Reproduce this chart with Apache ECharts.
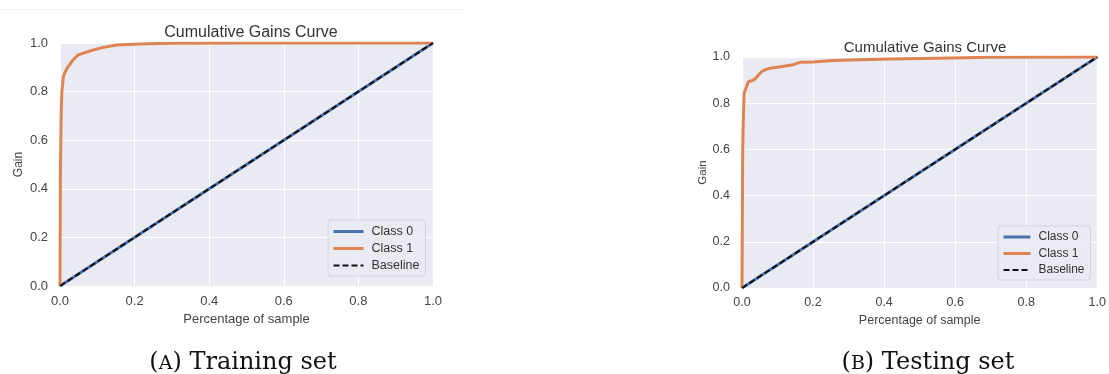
<!DOCTYPE html>
<html lang="en">
<head>
	<meta charset="UTF-8">
	<title>Cumulative Gains Curve</title>
	<style type="text/css">
		html, body { margin: 0; padding: 0; background: #fff; }
		#a { width: 1109px; height: 374px; }
	</style>
</head>
<body>
	<div id="a"></div>
	<script type="text/javascript" src="https://cdn.jsdelivr.net/npm/echarts@6/dist/echarts.min.js"></script>
	<script type="text/javascript">
		// tick labels of both axes
		var ticks = [0, 0.2, 0.4, 0.6, 0.8, 1.0];

		// diagonal (class 0 and the baseline)
		var basePct = [0, 1];
		var baseGain = [0, 1];

		// training set, class 1
		var trainPct = [0, 0.001, 0.003, 0.005, 0.009, 0.015, 0.022, 0.035, 0.049, 0.07, 0.089, 0.12, 0.152, 0.214, 0.3, 0.5, 1.0];
		var trainGain = [0, 0.45, 0.70, 0.80, 0.861, 0.885, 0.903, 0.93, 0.951, 0.962, 0.971, 0.983, 0.992, 0.996, 0.999, 1.0, 1.0];

		// testing set, class 1
		var testPct = [0, 0.002, 0.004, 0.006, 0.01, 0.018, 0.028, 0.037, 0.045, 0.055, 0.065, 0.079, 0.1, 0.121, 0.14, 0.163, 0.2, 0.247, 0.3, 0.416, 0.55, 0.7, 1.0];
		var testGain = [0, 0.6, 0.75, 0.843, 0.86, 0.893, 0.898, 0.905, 0.92, 0.936, 0.945, 0.951, 0.956, 0.961, 0.965, 0.977, 0.978, 0.984, 0.987, 0.991, 0.995, 0.999, 1.0];

		var seriesNames = ['Class 0', 'Class 1', 'Baseline'];
		var captions = ['A', 'B'];
		var captionText = ['Training set', 'Testing set'];

		function zip(xs, ys) {
			return xs.map(function (x, i) { return [x, ys[i]]; });
		}

		var font = 'Liberation Sans';
		var textColor = '#444';

		function xAxisFor(idx, size, margin, gap) {
			return {
				type: 'value', gridIndex: idx, min: 0, max: 1, interval: 0.2,
				name: 'Percentage of sample', nameLocation: 'middle', nameGap: gap,
				nameTextStyle: { fontFamily: font, fontSize: size, color: textColor },
				axisLine: { show: false }, axisTick: { show: false },
				axisLabel: { fontFamily: font, fontSize: size, color: textColor, margin: margin,
					formatter: function (v) { return v.toFixed(1); } },
				splitLine: { lineStyle: { color: '#fff', width: 1 } }
			};
		}
		function yAxisFor(idx, size, gap) {
			return {
				type: 'value', gridIndex: idx, min: 0, max: 1, interval: 0.2,
				name: 'Gain', nameLocation: 'middle', nameGap: gap,
				nameTextStyle: { fontFamily: font, fontSize: size - 1, color: textColor },
				axisLine: { show: false }, axisTick: { show: false },
				axisLabel: { fontFamily: font, fontSize: size, color: textColor, margin: 12,
					formatter: function (v) { return v.toFixed(1); } },
				splitLine: { lineStyle: { color: '#fff', width: 1 } }
			};
		}
		function seriesFor(idx, pct, gain) {
			return [
				{ name: 'Class 0', type: 'line', xAxisIndex: idx, yAxisIndex: idx, data: zip(basePct, baseGain),
					showSymbol: false, symbol: 'none', lineStyle: { color: '#4c72b0', width: 3 }, itemStyle: { color: '#4c72b0' } },
				{ name: 'Class 1', type: 'line', xAxisIndex: idx, yAxisIndex: idx, data: zip(pct, gain),
					showSymbol: false, symbol: 'none', lineStyle: { color: '#dd8452', width: 3 }, itemStyle: { color: '#dd8452' } },
				{ name: 'Baseline', type: 'line', xAxisIndex: idx, yAxisIndex: idx, data: zip(basePct, baseGain),
					showSymbol: false, symbol: 'none', lineStyle: { color: '#111', width: 2, type: [6, 3] }, itemStyle: { color: '#111' } }
			];
		}
		function legendFor(left, top, iw, ih, gap, size) {
			return {
				data: [
					{ name: seriesNames[0], lineStyle: { width: 3 } },
					{ name: seriesNames[1], lineStyle: { width: 3 } },
					{ name: seriesNames[2], lineStyle: { width: 2 } }
				],
				orient: 'vertical', left: left, top: top,
				itemWidth: iw, itemHeight: ih, itemGap: gap, padding: [5, 6, 4, 4],
				itemStyle: { opacity: 0 },
				backgroundColor: 'rgba(234,234,242,0.85)', borderColor: '#d4d4dc', borderWidth: 1, borderRadius: 3,
				textStyle: { fontFamily: font, fontSize: size, color: '#333', padding: [0, 0, 0, 3] },
				selectedMode: false
			};
		}
		function caption(letter, text, cx) {
			var base = { fontFamily: 'DejaVu Serif', fontWeight: 'normal', color: '#111', lineHeight: 26, verticalAlign: 'bottom' };
			return {
				text: '{p|(}{sc|' + letter + '}{p|) ' + text + '}',
				left: cx, top: 344, textAlign: 'center',
				textStyle: { fontWeight: 'normal', rich: {
					p: Object.assign({ fontSize: 24 }, base),
					sc: Object.assign({ fontSize: 19, padding: [0, 0, 1, 0] }, base)
				} }
			};
		}

		var myChart = echarts.init(document.getElementById('a'));
		var option = {
			animation: false,
			title: [
				{ text: 'Cumulative Gains Curve', left: 246, top: 20, textAlign: 'center',
					textStyle: { fontFamily: font, fontSize: 16, fontWeight: 'normal', color: '#333' } },
				{ text: 'Cumulative Gains Curve', left: 920, top: 35, textAlign: 'center',
					textStyle: { fontFamily: font, fontSize: 15, fontWeight: 'normal', color: '#333' } },
				caption(captions[0], captionText[0], 238),
				caption(captions[1], captionText[1], 923)
			],
			grid: [
				{ left: 60, top: 43, width: 373, height: 243, show: true, backgroundColor: '#eaeaf2', borderWidth: 0 },
				{ left: 742, top: 57, width: 356, height: 231, show: true, backgroundColor: '#eaeaf2', borderWidth: 0 }
			],
			xAxis: [xAxisFor(0, 13, 9, 23), xAxisFor(1, 12.5, 8, 24)],
			yAxis: [yAxisFor(0, 13, 35), yAxisFor(1, 12.5, 33)],
			legend: [
				legendFor(328, 220, 30, 14, 4, 12.5),
				legendFor(998, 226, 27, 13, 4.5, 12)
			],
			graphic: [
				{ type: 'line', shape: { x1: 0, y1: 9.5, x2: 465, y2: 9.5 }, style: { stroke: '#efefef', lineWidth: 1 }, silent: true }
			],
			series: seriesFor(0, trainPct, trainGain).concat(seriesFor(1, testPct, testGain))
		};
		myChart.setOption(option);
	</script>
</body>
</html>
